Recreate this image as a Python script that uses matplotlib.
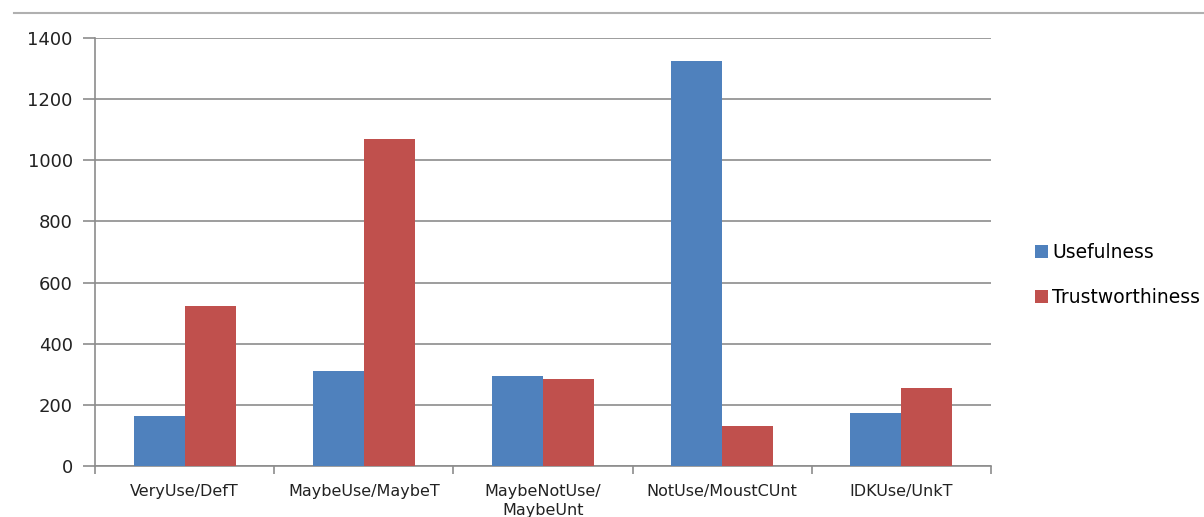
import matplotlib
matplotlib.use("Agg")
import matplotlib.pyplot as plt
from matplotlib.lines import Line2D
import numpy as np

categories = ["VeryUse/DefT", "MaybeUse/MaybeT", "MaybeNotUse/\nMaybeUnt",
              "NotUse/MoustCUnt", "IDKUse/UnkT"]
usefulness = [163, 311, 294, 1326, 173]
trustworthiness = [523, 1070, 285, 131, 255]

blue = "#4F81BD"
red = "#C0504D"
grey = "#8C8C8C"

plt.rcParams['font.family'] = ['DejaVu Sans']

fig = plt.figure(figsize=(12.04, 5.17), dpi=100)
ax = fig.add_axes([95 / 1204, 51 / 517, 896 / 1204, 428 / 517])

x = np.arange(len(categories))
w = 0.285
ax.bar(x - w / 2, usefulness, width=w, color=blue, label="Usefulness", zorder=3)
ax.bar(x + w / 2, trustworthiness, width=w, color=red, label="Trustworthiness", zorder=3)

ax.set_xlim(-0.5, len(categories) - 0.5)
ax.set_ylim(0, 1400)
ax.set_yticks(np.arange(0, 1401, 200))
ax.yaxis.grid(True, color=grey, linewidth=1.2, zorder=0)

# category labels in the middle, ticks at boundaries
ax.set_xticks(x)
ax.set_xticklabels(categories, fontsize=11.5, color="#222222", linespacing=1.35)
ax.tick_params(axis='x', length=0, pad=13)
ax.set_xticks(np.arange(-0.5, len(categories)), minor=True)
ax.tick_params(axis='x', which='minor', length=6, color=grey, width=1.2)
ax.tick_params(axis='y', length=9, color=grey, width=1.2, labelsize=13,
               labelcolor="#222222", pad=7)

for s in ["top", "right"]:
    ax.spines[s].set_visible(False)
for s in ["left", "bottom"]:
    ax.spines[s].set_color(grey)
    ax.spines[s].set_linewidth(1.2)

ax.legend(loc="center left", bbox_to_anchor=(1.039, 0.446), frameon=False,
          fontsize=13.5, handlelength=0.65, handleheight=0.65, handletextpad=0.25,
          labelspacing=1.4, borderpad=0)

# chart area border at the top
fig.add_artist(Line2D([14 / 1204, 1.0], [1 - 13 / 517, 1 - 13 / 517],
                      color="#B0B0B0", linewidth=1.5, transform=fig.transFigure))

fig.savefig("out.png", dpi=100)
